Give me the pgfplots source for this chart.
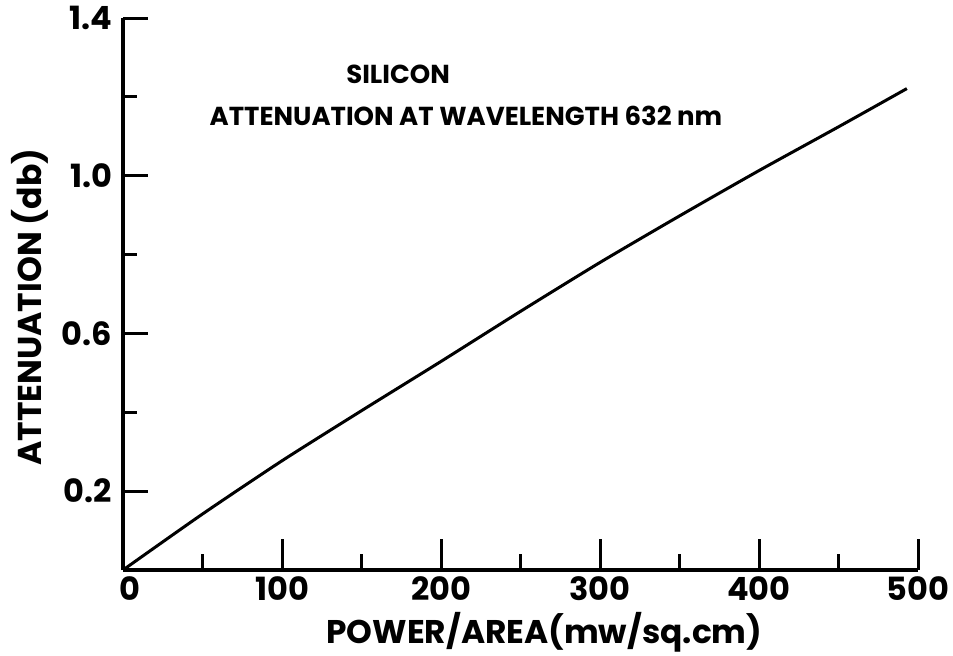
\documentclass[border=0pt]{standalone}
\usepackage{fontspec}
\setmainfont{Poppins}
\usepackage{pgfplots}
\pgfplotsset{compat=1.18}
\begin{document}
\begin{tikzpicture}
\path[use as bounding box] (-61.5pt,-42.5pt) rectangle (415pt,285pt);
% y axis
\begin{axis}[
  at={(0,0)}, anchor=south west,
  scale only axis, width=397.5pt, height=276pt,
  xmin=0, xmax=500, ymin=0, ymax=1.4,
  axis x line=none, axis y line=left,
  axis line style={-, line width=2pt},
  ytick={0.2,0.6,1.0,1.4},
  minor ytick={0.4,0.8,1.2},
  yticklabels={0.2,0.6,1.0,1.4},
  tick align=inside,
  major tick length=12.5pt, minor tick length=7pt,
  major tick style={black, line width=1.5pt},
  minor tick style={black, line width=1.5pt},
  yticklabel style={font=\fontsize{16}{18}\selectfont\bfseries, xshift=-2pt},
  /pgf/number format/assume math mode=true,
  ylabel={ATTENUATION (db)},
  ylabel style={at={(axis description cs:-0.117,0.476)}, anchor=center, font=\fontsize{16.5}{19}\selectfont\bfseries},
]
\end{axis}
% x axis and curve
\begin{axis}[
  at={(0,0)}, anchor=south west,
  scale only axis, width=397.5pt, height=276pt,
  xmin=0, xmax=500, ymin=0, ymax=1.4,
  axis x line=bottom, axis y line=none,
  axis line style={-, line width=2pt},
  xtick={0,100,200,300,400,500},
  xticklabels={\hspace*{7pt}0,100,200,300,400,500},
  minor xtick={50,150,250,350,450},
  tick align=inside,
  major tick length=15.5pt, minor tick length=8pt,
  major tick style={black, line width=1.5pt},
  minor tick style={black, line width=1.5pt},
  xticklabel style={font=\fontsize{16}{18}\selectfont\bfseries},
  /pgf/number format/assume math mode=true,
  xlabel={POWER/AREA(mw/sq.cm)},
  xlabel style={at={(axis description cs:0.53,-0.112)}, anchor=center, font=\fontsize{16.4}{19}\selectfont\bfseries},
  clip=false,
]
\addplot[black, line width=1.5pt, smooth, tension=0.4] coordinates {
(0,0) (50,0.142) (100,0.277) (150,0.404) (200,0.529) (250,0.656)
(300,0.780) (350,0.898) (400,1.013) (450,1.124) (493,1.221)
};
\node[font=\fontsize{13}{15}\selectfont\bfseries] at (axis cs:173,1.257) {SILICON};
\node[font=\fontsize{13}{15}\selectfont\bfseries] at (axis cs:215.7,1.151) {ATTENUATION AT WAVELENGTH 632 nm};
\end{axis}
\end{tikzpicture}
\end{document}
